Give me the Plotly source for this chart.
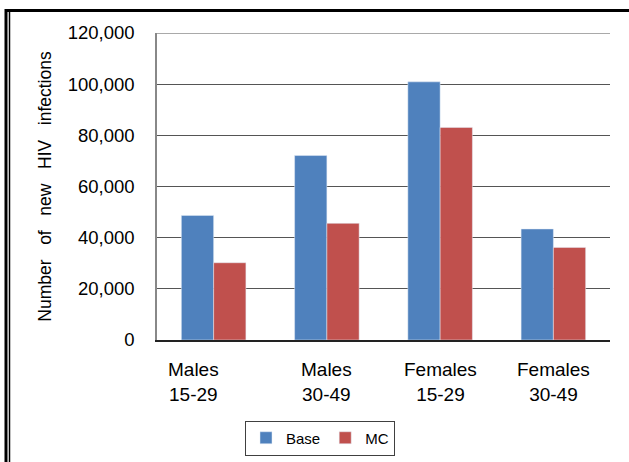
import plotly.graph_objects as go

categories = ["Males<br>15-29", "Males<br>30-49", "Females<br>15-29", "Females<br>30-49"]
cat_keys = ["M15", "M30", "F15", "F30"]
base_values = [48700, 72100, 100900, 43400]
mc_values = [30200, 45600, 83100, 36200]
y_ticks = [0, 20000, 40000, 60000, 80000, 100000, 120000]
label_shift = [-20, 0, 0, 0]

W, H = 629, 462
L, R, T, B = 157, 19, 33, 122
pw, ph = W - L - R, H - T - B

def px_x(px):
    return (px - L) / pw

def px_y(py):
    return (H - B - py) / ph

fig = go.Figure()
fig.add_trace(go.Bar(x=cat_keys, y=base_values, name="Base", marker_color="#4F81BD"))
fig.add_trace(go.Bar(x=cat_keys, y=mc_values, name="MC", marker_color="#C0504D"))

for k, lab, sh in zip(cat_keys, categories, label_shift):
    fig.add_annotation(x=k, xref="x", y=px_y(357), yref="paper", text=lab,
                       showarrow=False, xanchor="center", yanchor="top", xshift=sh,
                       font=dict(family="Liberation Sans, Arial", size=19, color="#000"))

sp = "\u00a0\u00a0\u00a0"
title = sp.join(["Number", "of", "new", "HIV", "infections"])

fig.update_layout(
    width=W, height=H,
    margin=dict(l=L, r=R, t=T, b=B, autoexpand=False),
    paper_bgcolor="white", plot_bgcolor="white",
    barmode="group", bargap=0.43, bargroupgap=0,
    font=dict(family="Liberation Sans, Arial", color="#000"),
    showlegend=True,
    legend=dict(orientation="h", x=px_x(320), y=px_y(438), xanchor="center", yanchor="middle",
                bordercolor="#404040", borderwidth=1, font=dict(size=15),
                itemwidth=30, traceorder="normal", tracegroupgap=0),
    xaxis=dict(showticklabels=False, showgrid=False, showline=True, linecolor="#222",
               linewidth=1.5, ticks="", zeroline=False, automargin=False),
    yaxis=dict(range=[0, 120000], tickvals=y_ticks, tickformat=",d",
               showgrid=True, gridcolor="#555", gridwidth=1.2,
               showline=True, linecolor="#888", linewidth=1.5, zeroline=False,
               ticks="", ticklabelstandoff=17, tickfont=dict(size=18.5),
               automargin=False,
               title=dict(text=title, font=dict(size=17.5), standoff=12)),
    shapes=[
        dict(type="line", xref="paper", yref="y", x0=0, x1=1, y0=120000, y1=120000,
             line=dict(color="#555", width=1.2)),
        dict(type="line", xref="paper", yref="paper", x0=px_x(6), x1=px_x(6), y0=px_y(9), y1=px_y(462),
             line=dict(color="#000", width=3)),
        dict(type="line", xref="paper", yref="paper", x0=px_x(9.5), x1=px_x(9.5), y0=px_y(9), y1=px_y(462),
             line=dict(color="#000", width=1.5)),
        dict(type="line", xref="paper", yref="paper", x0=px_x(5), x1=px_x(629), y0=px_y(10.5), y1=px_y(10.5),
             line=dict(color="#000", width=3)),
    ],
)

fig.write_html("out.html", config={"displayModeBar": False},
               post_script="document.body.style.margin='0px';")
